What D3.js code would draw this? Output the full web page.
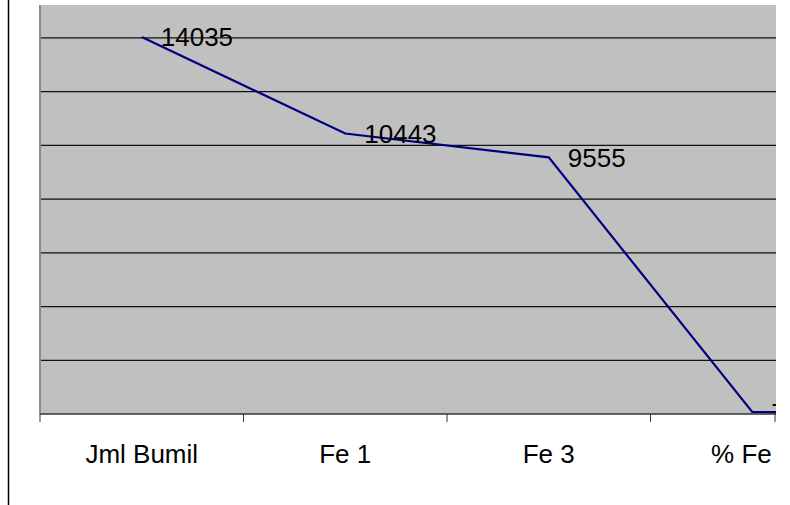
<!DOCTYPE html>
<html><head><meta charset="utf-8">
<script src="https://cdn.jsdelivr.net/npm/d3@7"></script>
<style>body{margin:0;background:#fff}svg{display:block}text{font-family:"Liberation Sans",Arial,sans-serif}</style>
</head><body>
<svg id="c" width="790" height="505"></svg>
<script>
const categories = ["Jml Bumil", "Fe 1", "Fe 3", "% Fe 1", "% Fe 3"];
const values = [14035, 10443, 9555, 74, 68];
const yTicks = [0, 2000, 4000, 6000, 8000, 10000, 12000, 14000, 16000];

const svg = d3.select("#c");
const plot = {left: 40, right: 776, top: 5, bottom: 414};
const band = 203.5;
const x = d3.scaleBand().domain(categories).range([plot.left, plot.left + band * categories.length]).padding(0);
const y = d3.scaleLinear().domain([0, 16000]).range([plot.bottom, plot.bottom - 16000 * 0.026862]);

// outer left border line
svg.append("line").attr("x1", 8.5).attr("x2", 8.5).attr("y1", 0).attr("y2", 505).attr("stroke", "#000").attr("stroke-width", 1.5);

svg.append("defs").append("clipPath").attr("id", "pc").append("rect")
  .attr("x", plot.left).attr("y", plot.top).attr("width", plot.right - plot.left).attr("height", plot.bottom - plot.top + 1);
svg.append("clipPath").attr("id", "ac").append("rect")
  .attr("x", 0).attr("y", plot.bottom - 2).attr("width", plot.right).attr("height", 120);

svg.append("rect").attr("x", plot.left).attr("y", plot.top).attr("width", plot.right - plot.left).attr("height", plot.bottom - plot.top).attr("fill", "#c0c0c0");

const g = svg.append("g").attr("clip-path", "url(#pc)");
g.selectAll("line.grid").data(yTicks.filter(d => d > 0)).join("line")
  .attr("x1", plot.left).attr("x2", plot.right)
  .attr("y1", d => y(d)).attr("y2", d => y(d))
  .attr("stroke", "#111").attr("stroke-width", 1.2);

// left value-axis line
svg.append("line").attr("x1", 40).attr("x2", 40).attr("y1", plot.top).attr("y2", plot.bottom).attr("stroke", "#8c8c8c").attr("stroke-width", 2);

const line = d3.line().x(d => x(d.c) + x.bandwidth() / 2).y(d => y(d.v));
const pts = categories.map((c, i) => ({c, v: values[i]}));
g.append("path").datum(pts).attr("d", line).attr("fill", "none").attr("stroke", "#000080").attr("stroke-width", 2.2);

g.selectAll("text.lbl").data(pts).join("text")
  .attr("x", d => x(d.c) + x.bandwidth() / 2 + 19)
  .attr("y", d => y(d.v) + 9.5)
  .attr("font-size", 26).attr("fill", "#000")
  .text(d => d.v);

// x axis
const xa = svg.append("g").attr("clip-path", "url(#ac)");
xa.append("line").attr("x1", plot.left).attr("x2", plot.right).attr("y1", plot.bottom).attr("y2", plot.bottom).attr("stroke", "#333").attr("stroke-width", 1.5);
const tickPos = categories.map(c => x(c)).concat([x(categories[categories.length - 1]) + band]);
xa.selectAll("line.tk").data(tickPos).join("line")
  .attr("x1", d => d).attr("x2", d => d).attr("y1", plot.bottom).attr("y2", plot.bottom + 8)
  .attr("stroke", "#333").attr("stroke-width", 1);
xa.append("line").attr("x1", 775).attr("x2", 775).attr("y1", plot.bottom - 1).attr("y2", plot.bottom + 8).attr("stroke", "#333").attr("stroke-width", 1);
xa.selectAll("text.cat").data(categories).join("text")
  .attr("x", d => x(d) + x.bandwidth() / 2).attr("y", 463)
  .attr("text-anchor", "middle").attr("font-size", 26).attr("fill", "#000")
  .text(d => d);
</script>
</body></html>
